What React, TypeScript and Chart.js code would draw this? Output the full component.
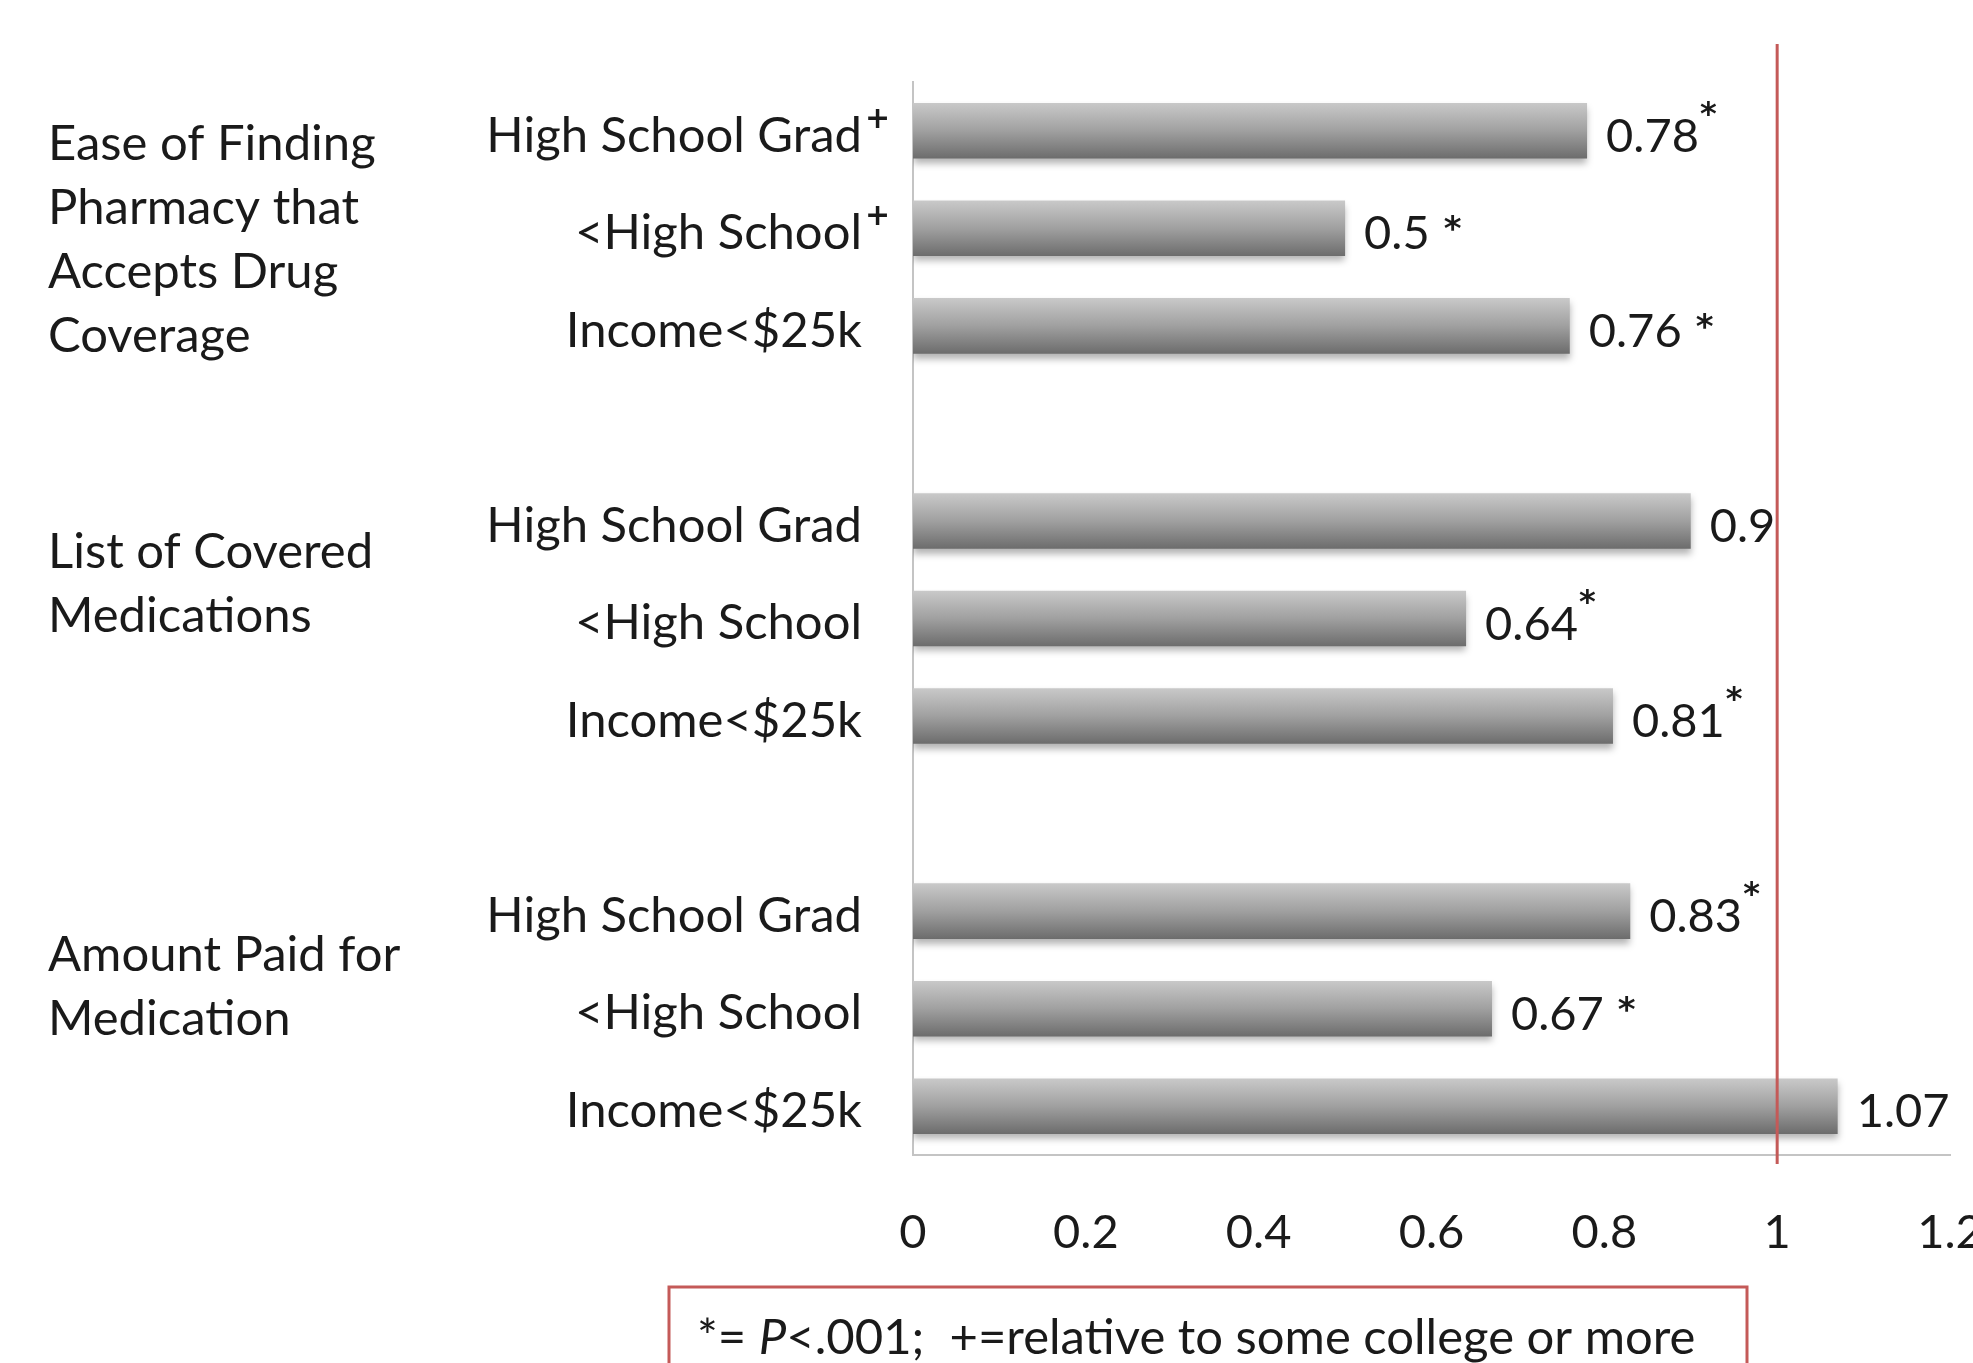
import React, { useEffect, useRef } from "react";
import { Chart, registerables } from "chart.js";

Chart.register(...registerables);

// ---------- data ----------
const categories = [
  "High School Grad", "<High School", "Income<$25k", "",
  "High School Grad", "<High School", "Income<$25k", "",
  "High School Grad", "<High School", "Income<$25k",
];
const categoryMarks = ["+", "+", "", "", "", "", "", "", "", "", ""];
const oddsRatios: (number | null)[] = [0.78, 0.5, 0.76, null, 0.9, 0.64, 0.81, null, 0.83, 0.67, 1.07];
const valueLabels = ["0.78", "0.5", "0.76", "", "0.9", "0.64", "0.81", "", "0.83", "0.67", "1.07"];
const starStyles = ["sup", "inline", "inline", "", "", "sup", "sup", "", "sup", "inline", ""];
const groupTitles = [
  ["Ease of Finding", "Pharmacy that", "Accepts Drug", "Coverage"],
  ["List of Covered", "Medications"],
  ["Amount Paid for", "Medication"],
];
const xMin = 0;
const xMax = 1.2;
const xStep = 0.2;
const referenceValue = 1;
const footnoteBefore = "*= ";
const footnoteItalic = "P";
const footnoteAfter = "<.001;  +=relative to some college or more";

// ---------- layout / style constants ----------
const W = 1973;
const H = 1363;
const FONT = "Lato, 'Open Sans', sans-serif";
const SYM_FONT = "'DejaVu Sans', sans-serif";
const FS = 49;
const FS_NUM = 47;
const TEXT = "#1a1a1a";
const RED = "#c45a58";
const AXIS = "#c4c4c4";
const GROUP_TITLE_Y = [144, 552, 955];
const GROUP_LINE_H = 64;
const BAR_PCT = 0.57;

const annotations = {
  id: "annotations",
  beforeDatasetDraw(chart: any) {
    const ctx = chart.ctx;
    ctx.save();
    ctx.shadowColor = "rgba(0,0,0,0.30)";
    ctx.shadowBlur = 7;
    ctx.shadowOffsetY = 5;
  },
  afterDatasetDraw(chart: any) {
    chart.ctx.restore();
  },
  afterDatasetsDraw(chart: any) {
    const ctx = chart.ctx;
    const meta = chart.getDatasetMeta(0);
    const xs = chart.scales.x;
    const ys = chart.scales.y;
    ctx.save();
    ctx.fillStyle = TEXT;
    ctx.textBaseline = "middle";
    ctx.textAlign = "left";
    // value labels
    meta.data.forEach((el: any, i: number) => {
      const v = oddsRatios[i];
      if (v == null) return;
      const x = el.x + 19;
      const y = el.y + 6;
      ctx.font = `${FS_NUM}px ${FONT}`;
      ctx.fillText(valueLabels[i], x, y);
      const w = ctx.measureText(valueLabels[i]).width;
      if (starStyles[i] === "sup") {
        ctx.font = `bold 32px ${SYM_FONT}`;
        ctx.fillText("*", x + w + 1, y - 21);
      } else if (starStyles[i] === "inline") {
        ctx.font = `bold 34px ${SYM_FONT}`;
        ctx.fillText("*", x + w + 14, y - 3);
      }
    });
    // superscript marks on category labels
    const labelRight = ys.right - ys.options.ticks.padding;
    ctx.font = `bold 30px ${SYM_FONT}`;
    categoryMarks.forEach((m, i) => {
      if (!m) return;
      ctx.fillText(m, labelRight + 3, ys.getPixelForValue(i) - 11);
    });
    // reference line at 1
    const rx = xs.getPixelForValue(referenceValue);
    ctx.strokeStyle = RED;
    ctx.lineWidth = 3;
    ctx.beginPath();
    ctx.moveTo(rx, 44);
    ctx.lineTo(rx, 1164);
    ctx.stroke();
    // group titles
    ctx.font = `${FS}px ${FONT}`;
    ctx.fillStyle = TEXT;
    groupTitles.forEach((lines, g) => {
      lines.forEach((t, k) => {
        ctx.fillText(t, 48, GROUP_TITLE_Y[g] + k * GROUP_LINE_H);
      });
    });
    // footnote box
    ctx.strokeStyle = RED;
    ctx.lineWidth = 3;
    ctx.strokeRect(669, 1287, 1078, 140);
    let fx = 697;
    const fy = 1338;
    ctx.font = `${FS}px ${FONT}`;
    ctx.fillText(footnoteBefore, fx, fy);
    fx += ctx.measureText(footnoteBefore).width;
    ctx.font = `italic ${FS}px ${FONT}`;
    ctx.fillText(footnoteItalic, fx, fy);
    fx += ctx.measureText(footnoteItalic).width;
    ctx.font = `${FS}px ${FONT}`;
    ctx.fillText(footnoteAfter, fx, fy);
    ctx.restore();
  },
};

function barGradient(c: any) {
  const chart = c.chart;
  const ys = chart.scales?.y;
  if (!chart.chartArea || !ys) return "#9a9a9a";
  const cy = ys.getPixelForValue(c.dataIndex);
  const half = (ys.height / categories.length) * BAR_PCT / 2;
  const g = chart.ctx.createLinearGradient(0, cy - half, 0, cy + half);
  g.addColorStop(0, "#c9c9c9");
  g.addColorStop(0.5, "#a0a0a0");
  g.addColorStop(1, "#6c6c6c");
  return g;
}

export default function App() {
  const ref = useRef<HTMLCanvasElement | null>(null);
  useEffect(() => {
    document.body.style.margin = "0";
    const canvas = ref.current!;
    const chart = new Chart(canvas, {
      type: "bar",
      data: {
        labels: categories,
        datasets: [
          {
            data: oddsRatios as any,
            backgroundColor: barGradient as any,
            borderWidth: 0,
            categoryPercentage: 1,
            barPercentage: BAR_PCT,
          },
        ],
      },
      plugins: [annotations],
      options: {
        indexAxis: "y",
        animation: false,
        responsive: false,
        devicePixelRatio: 1,
        layout: { padding: { top: 82, right: 23, bottom: 0, left: 0 } },
        plugins: { legend: { display: false }, tooltip: { enabled: false }, title: { display: false } },
        scales: {
          x: {
            type: "linear",
            min: xMin,
            max: xMax,
            ticks: {
              stepSize: xStep,
              padding: 50,
              color: TEXT,
              font: { family: FONT, size: FS_NUM },
              maxRotation: 0,
              callback: (v: any) => String(Number(Number(v).toFixed(1))),
            },
            grid: { display: false, drawTicks: false },
            border: { display: true, color: AXIS, width: 2 },
            afterFit(s: any) {
              s.paddingLeft = 0;
              s.paddingRight = 0;
              s.height = 208;
            },
          },
          y: {
            type: "category",
            ticks: {
              autoSkip: false,
              padding: 51,
              labelOffset: 5,
              color: TEXT,
              font: { family: FONT, size: FS },
            },
            grid: { display: false, drawTicks: false },
            border: { display: true, color: AXIS, width: 2 },
            afterFit(s: any) {
              s.width = 913;
              s.paddingTop = 0;
              s.paddingBottom = 0;
            },
          },
        },
      },
    });
    let alive = true;
    (document as any).fonts?.load(`${FS}px Lato`).then(() => {
      if (alive) chart.update();
    });
    return () => {
      alive = false;
      chart.destroy();
    };
  }, []);
  return (
    <div style={{ width: W, height: H, background: "#fff", overflow: "hidden" }}>
      <canvas ref={ref} width={W} height={H} style={{ display: "block", width: W, height: H }} />
    </div>
  );
}
